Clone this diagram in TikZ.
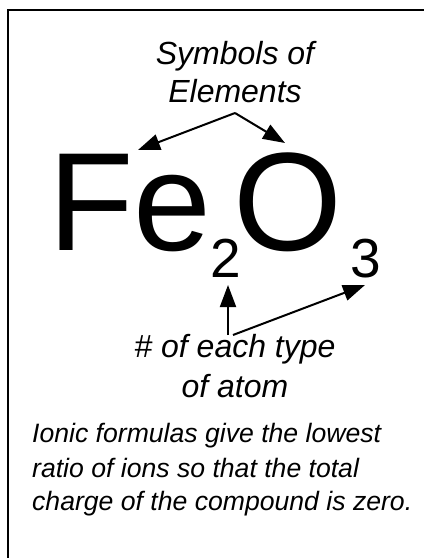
\documentclass[tikz,border=0pt]{standalone}
\usepackage{fontspec}
\setmainfont{Liberation Sans}
\usetikzlibrary{arrows.meta}
\tikzset{
  lbl/.style={font=\fontsize{32bp}{37bp}\selectfont\itshape, inner sep=0pt, anchor=base},
  para/.style={font=\fontsize{26.6bp}{34bp}\selectfont\itshape, inner sep=0pt, anchor=base west},
  big/.style={font=\fontsize{140bp}{150bp}\selectfont, inner sep=0pt, anchor=base west},
  sub/.style={font=\fontsize{55bp}{60bp}\selectfont, inner sep=0pt, anchor=base west},
  arr/.style={line width=2bp, -{Triangle[length=22bp,width=16bp]}},
  frame/.style={line width=2.2bp}
}
\begin{document}
\begin{tikzpicture}[x=1bp,y=-1bp]
\useasboundingbox (0,0) rectangle (423,558);
\fill[white] (0,0) rectangle (423,558);
% frame
\coordinate (c0) at (8,10);
\coordinate (c1) at (424,10);
\coordinate (c2) at (8,559);
\draw[frame] (c1) -- (c0) -- (c2);
% labels
\node[lbl] (sym1) at (235,65) {Symbols of};
\node[lbl] (sym2) at (235,103) {Elements};
% formula
\node[big] (fe) at (48,250) {Fe};
\node[sub] (two) at (210,277) {2};
\node[big] (oxy) at (241,250) {\hspace*{-8bp}O};
\node[sub] (three) at (350,277) {3};
% arrows top
\coordinate (apex) at (235,113);
\coordinate (tipL) at (138,150);
\coordinate (tipR) at (285,143);
\draw[arr] (apex) -- (tipL);
\draw[arr] (apex) -- (tipR);
% bottom labels
\node[lbl] (num1) at (235,357) {\# of each type};
\node[lbl] (num2) at (235,397) {of atom};
% arrows bottom
\coordinate (vb) at (228,335);
\coordinate (vt) at (228,285);
\coordinate (db) at (233,335);
\coordinate (dt) at (365,285);
\draw[arr] (vb) -- (vt);
\draw[arr] (db) -- (dt);
% paragraph
\node[para] (p1) at (32,442) {Ionic formulas give the lowest};
\node[para] (p2) at (32,477) {ratio of ions so that the total};
\node[para] (p3) at (32,510) {charge of the compound is zero.};
\end{tikzpicture}
\end{document}
